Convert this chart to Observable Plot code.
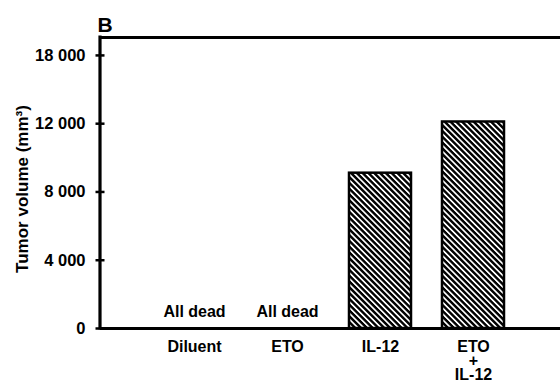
<!DOCTYPE html>
<html>
<head>
<meta charset="utf-8">
<script src="https://cdn.jsdelivr.net/npm/d3@7"></script>
<script src="https://cdn.jsdelivr.net/npm/@observablehq/plot@0.6"></script>
<style>
  html, body { margin: 0; padding: 0; background: #fff; overflow: hidden; width: 560px; height: 383px; }
</style>
</head>
<body>
<script>
// Data
const categories = ["Diluent", "ETO", "IL-12", "ETO + IL-12"];
const categoryLabels = ["Diluent", "ETO", "IL-12", "ETO\n+\nIL-12"];
const volumes = [null, null, 9100, 12100];
const notes = ["All dead", "All dead", null, null];
const yTickValues = [0, 4000, 8000, 12000, 16000];
const yTickLabels = ["0", "4 000", "8 000", "12 000", "18 000"];
const yMax = 17050;
const yTitle = "Tumor volume (mm³)";
const panelLabel = "B";

const rows = categories.map((c, i) => ({cat: c, label: categoryLabels[i], value: volumes[i], note: notes[i]}));
const bars = rows.filter(d => d.value != null);
const dead = rows.filter(d => d.note != null);

// left axis line drawn from the plot's own dimensions
function leftLine(index, scales, values, dim) {
  const l = document.createElementNS("http://www.w3.org/2000/svg", "line");
  l.setAttribute("x1", dim.marginLeft);
  l.setAttribute("x2", dim.marginLeft);
  l.setAttribute("y1", dim.marginTop - 1.5);
  l.setAttribute("y2", dim.height - dim.marginBottom + 1.5);
  l.setAttribute("stroke", "#000");
  l.setAttribute("stroke-width", 3.2);
  return l;
}

const svg = Plot.plot({
  width: 560,
  height: 383,
  marginLeft: 100,
  marginRight: 0,
  marginTop: 37,
  marginBottom: 55,
  style: {fontFamily: '"Liberation Sans", Arial, sans-serif', fontWeight: "bold", fontSize: "16px", color: "#000", background: "#fff", overflow: "hidden"},
  x: {domain: categories, paddingInner: 0.33, paddingOuter: 0.612, align: 0.535},
  y: {domain: [0, yMax]},
  marks: [
    Plot.barY(bars, {x: "cat", y: "value", fill: "url(#hatch)", stroke: "#000", strokeWidth: 2.5}),
    Plot.text(dead, {x: "cat", y: 0, text: "note", dy: -12, lineAnchor: "bottom", fontSize: 16}),
    Plot.ruleY([0], {strokeWidth: 3.2}),
    Plot.ruleY([yMax], {strokeWidth: 3}),
    Plot.axisY({ticks: yTickValues, tickFormat: (d) => yTickLabels[yTickValues.indexOf(d)], tickSize: 9, dx: 4.5, tickPadding: 10.5, strokeWidth: 2.5, label: null, fontSize: 16.5}),
    leftLine,
    Plot.axisX({tickSize: 0, tickPadding: 14, tickFormat: (d) => categoryLabels[categories.indexOf(d)], lineHeight: 0.87, label: null, fontSize: 16}),
    Plot.text([yTitle], {frameAnchor: "left", rotate: -90, dx: -78, dy: 6, fontSize: 17, textAnchor: "middle"}),
    Plot.text([panelLabel], {frameAnchor: "top-left", dx: -3, dy: -6, lineAnchor: "bottom", textAnchor: "start", fontSize: 21})
  ]
});

const defs = d3.select(svg).insert("defs", ":first-child");
const pat = defs.append("pattern")
  .attr("id", "hatch")
  .attr("patternUnits", "userSpaceOnUse")
  .attr("width", 4.1).attr("height", 4.1)
  .attr("patternTransform", "rotate(45)");
pat.append("rect").attr("width", 4.1).attr("height", 4.1).attr("fill", "#fff");
pat.append("rect").attr("width", 4.1).attr("height", 2.4).attr("fill", "#000");

document.body.appendChild(svg);
</script>
</body>
</html>
